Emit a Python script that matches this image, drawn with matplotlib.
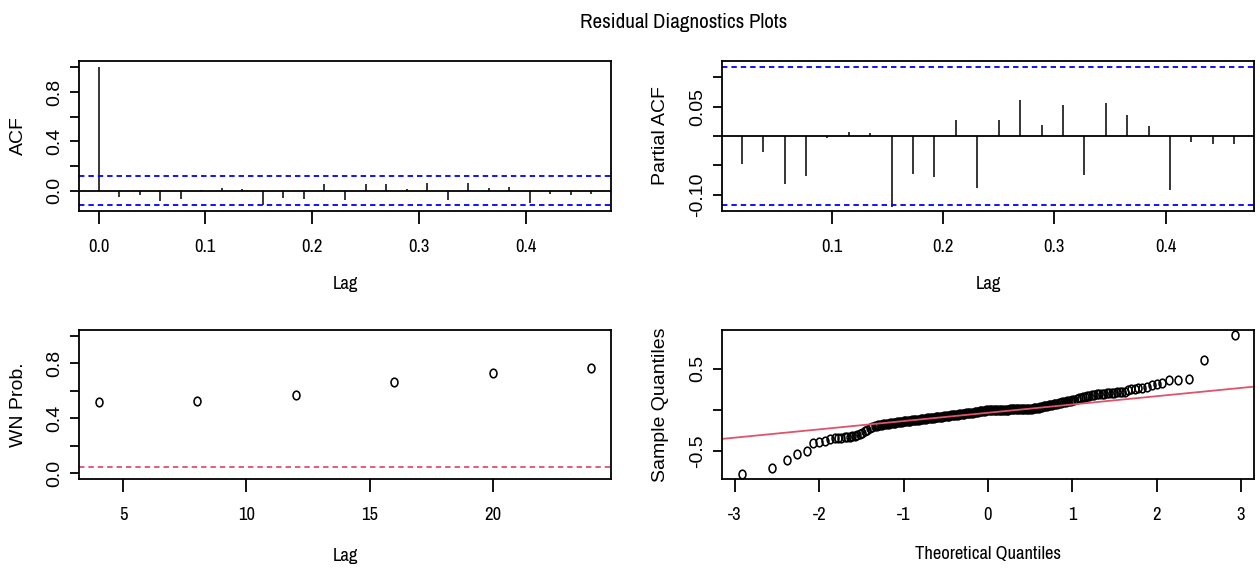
import os
import numpy as np
import matplotlib
matplotlib.use("Agg")
import matplotlib.pyplot as plt
from matplotlib import font_manager
from matplotlib.font_manager import FontProperties
from matplotlib.path import Path
from matplotlib.transforms import Affine2D

# ---------------- data ----------------
title = "Residual Diagnostics Plots"
season = 52  # weekly series: lag axis is in years

acf_lag_numbers = list(range(0, 25))
acf_values = [1.0, -0.049, -0.035, -0.081, -0.067, 0.005, 0.020, 0.013, -0.119,
              -0.057, -0.067, 0.057, -0.073, 0.051, 0.057, 0.013, 0.062, -0.078,
              0.062, 0.022, 0.027, -0.100, -0.024, -0.038, -0.024]
acf_ci = 0.1186

pacf_lag_numbers = list(range(1, 25))
pacf_values = [-0.048, -0.028, -0.081, -0.068, -0.003, 0.0075, 0.0046, -0.121,
               -0.064, -0.070, 0.028, -0.088, 0.028, 0.061, 0.018, 0.053, -0.067,
               0.056, 0.036, 0.017, -0.0925, -0.010, -0.013, -0.014]
pacf_ci = 0.1177

wn_lags = [4, 8, 12, 16, 20, 24]
wn_prob = [0.518, 0.525, 0.569, 0.662, 0.725, 0.762]
wn_threshold = 0.05

qq_low_theor = [-2.92, -2.56, -2.38, -2.26, -2.15, -2.07, -2.00, -1.93, -1.87, -1.82,
                -1.78, -1.74, -1.70, -1.67, -1.64, -1.61, -1.58, -1.55, -1.52, -1.49,
                -1.46, -1.43, -1.40, -1.37]
qq_low_sample = [-0.777, -0.705, -0.608, -0.536, -0.508, -0.406, -0.399, -0.376, -0.359, -0.348,
                 -0.343, -0.339, -0.336, -0.333, -0.330, -0.326, -0.320, -0.310, -0.297, -0.282,
                 -0.265, -0.247, -0.228, -0.212]

qq_mid_theor = [-1.34, -1.32, -1.30, -1.28, -1.26, -1.24, -1.22, -1.20,
                -1.18, -1.16, -1.14, -1.12, -1.10, -1.08, -1.06, -1.04, -1.02, -1.00,
                -0.98, -0.96, -0.94, -0.92, -0.90, -0.88, -0.86, -0.84, -0.82, -0.80,
                -0.78, -0.76, -0.74, -0.72, -0.70, -0.68, -0.66, -0.64, -0.62, -0.60,
                -0.58, -0.56, -0.54, -0.52, -0.50, -0.48, -0.46, -0.44, -0.42, -0.40,
                -0.38, -0.36, -0.34, -0.32, -0.30, -0.28, -0.26, -0.24, -0.22, -0.20,
                -0.18, -0.16, -0.14, -0.12, -0.10, -0.08, -0.06, -0.04, -0.02, 0.00,
                0.02, 0.04, 0.06, 0.08, 0.10, 0.12, 0.14, 0.16, 0.18, 0.20,
                0.22, 0.24, 0.26, 0.28, 0.30, 0.32, 0.34, 0.36, 0.38, 0.40,
                0.42, 0.44, 0.46, 0.48, 0.50,
                0.52, 0.54, 0.56, 0.58, 0.60, 0.62, 0.64, 0.66, 0.68, 0.70,
                0.72, 0.74, 0.76, 0.78, 0.80, 0.82, 0.84, 0.86, 0.88, 0.90,
                0.92, 0.94, 0.96, 0.98, 1.00]
qq_mid_sample = [-0.198, -0.194, -0.191, -0.187, -0.183, -0.180, -0.176, -0.172,
                 -0.169, -0.166, -0.163, -0.160, -0.157, -0.155, -0.152, -0.149, -0.146, -0.143,
                 -0.140, -0.138, -0.135, -0.133, -0.130, -0.128, -0.125, -0.123, -0.120, -0.118,
                 -0.115, -0.113, -0.110, -0.107, -0.105, -0.102, -0.100, -0.097, -0.094, -0.092,
                 -0.089, -0.087, -0.084, -0.081, -0.079, -0.076, -0.074, -0.071, -0.068, -0.066,
                 -0.063, -0.060, -0.057, -0.055, -0.052, -0.049, -0.046, -0.043, -0.041, -0.038,
                 -0.035, -0.032, -0.028, -0.025, -0.022, -0.019, -0.016, -0.012, -0.009, -0.006,
                 -0.004, -0.003, -0.002, -0.002, -0.001, -0.001, 0.000, 0.000, 0.000, 0.001,
                 0.001, 0.001, 0.002, 0.002, 0.002, 0.003, 0.003, 0.003, 0.004, 0.004,
                 0.004, 0.005, 0.005, 0.006, 0.006,
                 0.010, 0.014, 0.018, 0.022, 0.026, 0.031, 0.035, 0.039, 0.044, 0.048,
                 0.052, 0.057, 0.061, 0.065, 0.070, 0.074, 0.078, 0.083, 0.087, 0.091,
                 0.096, 0.100, 0.105, 0.110, 0.115]

qq_high_theor = [1.025, 1.05, 1.075, 1.10, 1.125, 1.15, 1.175, 1.20,
                 1.23, 1.26, 1.29, 1.32, 1.35, 1.38, 1.41, 1.44, 1.47, 1.50, 1.53, 1.56, 1.59, 1.62,
                 1.66, 1.70, 1.74, 1.78, 1.83, 1.89, 1.95, 2.00, 2.06, 2.15, 2.25, 2.38, 2.56, 2.925]
qq_high_sample = [0.122, 0.130, 0.137, 0.144, 0.151, 0.158, 0.164, 0.170,
                  0.180, 0.183, 0.186, 0.189, 0.192, 0.195, 0.198, 0.201, 0.204, 0.207, 0.210, 0.213, 0.216, 0.220,
                  0.240, 0.248, 0.255, 0.262, 0.266, 0.280, 0.300, 0.310, 0.327, 0.360, 0.360, 0.367, 0.600, 0.903]

qq_line_intercept = -0.038
qq_line_slope = 0.1007

# ---------------- fonts ----------------
available = {f.name for f in font_manager.fontManager.ttflist}
REG = "Liberation Sans" if "Liberation Sans" in available else "DejaVu Sans"


def find_narrow_font():
    family_rank = ["Liberation Sans Narrow", "Arial Narrow", "Roboto Condensed",
                   "Noto Sans", "Open Sans", "Roboto", "Lato", "Inter",
                   "Liberation Sans", "DejaVu Sans"]
    bad = ("bold", "italic", "oblique", "light", "medium", "semibold", "black",
           "thin", "heavy", "extrabold", "display", "mono", "ui", "cjk")
    best = None
    for f in font_manager.fontManager.ttflist:
        base = os.path.basename(f.fname).lower()
        name = f.name
        stretch = str(f.stretch).lower()
        tag = (name + " " + base + " " + stretch).lower()
        squashed = tag.replace("-", "").replace(" ", "")
        if str(f.style).lower() != "normal":
            continue
        if any(b in base.replace("condensed", "").replace("semicond", "") for b in bad):
            continue
        if f.weight not in (400, "normal", "regular", "book"):
            continue
        if "narrow" in tag:
            wrank = 0
        elif "semicondensed" in squashed:
            wrank = 2
        elif "extracondensed" in squashed or "ultracondensed" in squashed:
            wrank = 3
        elif "condensed" in tag:
            wrank = 1
        else:
            continue
        fam_rank = len(family_rank)
        for i, fam in enumerate(family_rank):
            if name.lower().startswith(fam.lower()):
                fam_rank = i
                break
        key = (wrank, fam_rank)
        if best is None or key < best[0]:
            best = (key, f.fname)
    return best[1] if best else None


narrow_file = find_narrow_font()


def hfont(size):
    if narrow_file:
        return FontProperties(fname=narrow_file, size=size)
    return FontProperties(family=REG, size=size)


def vfont(size):
    return FontProperties(family=REG, size=size)


# ---------------- figure ----------------
W, H = 1260, 571
fig = plt.figure(figsize=(W / 100, H / 100), dpi=100)
fig.patch.set_facecolor("white")
renderer = fig.canvas.get_renderer()


def fit_size(text, target_px, start=15.0):
    t = fig.text(0, 0, text, fontproperties=hfont(start))
    w = t.get_window_extent(renderer=renderer).width
    t.remove()
    return start * target_px / w


TITLE_SIZE = fit_size(title, 207.0)
HSIZE = fit_size("Theoretical Quantiles", 146.0)
VSIZE = 14


def box(left, top, right, bottom):
    return [left / W, 1 - bottom / H, (right - left) / W, (bottom - top) / H]


ax_acf = fig.add_axes(box(79, 61, 611, 211))
ax_pacf = fig.add_axes(box(722, 61, 1254, 211))
ax_wn = fig.add_axes(box(79, 330, 611, 479))
ax_qq = fig.add_axes(box(722, 330, 1254, 479))

ring_path = Path.unit_circle().transformed(Affine2D().scale(0.8, 1.0))


def style(ax):
    for s in ax.spines.values():
        s.set_linewidth(1.3)
        s.set_color("black")
    ax.tick_params(axis="x", direction="out", length=9.4, width=1.3, pad=10.5)
    ax.tick_params(axis="y", direction="out", length=6.5, width=1.3, pad=5.0)


def set_x(ax, ticks, labels):
    ax.set_xticks(ticks)
    ax.set_xticklabels(labels, fontproperties=hfont(HSIZE))


def set_y(ax, ticks, labels):
    ax.set_yticks(ticks)
    ax.set_yticklabels(labels, rotation=90, va="center", ha="right",
                       fontproperties=vfont(VSIZE))


def labels(ax, xlabel, ylabel, xy, yx):
    ax.set_xlabel(xlabel, fontproperties=hfont(HSIZE))
    ax.xaxis.label.set_va("center")
    ax.xaxis.set_label_coords(0.5, xy)
    ax.set_ylabel(ylabel, fontproperties=vfont(VSIZE))
    ax.yaxis.label.set_va("center")
    ax.yaxis.set_label_coords(yx, 0.5)


# ACF
acf_x = np.array(acf_lag_numbers) / season
ax_acf.vlines(acf_x, 0, acf_values, color="black", lw=1.1)
ax_acf.axhline(0, color="black", lw=1.3)
for c in (acf_ci, -acf_ci):
    ax_acf.axhline(c, color="blue", lw=1.3, ls=(0, (3, 2.2)))
ax_acf.set_xlim(-0.01846, 0.48)
ax_acf.set_ylim(-0.1645, 1.051)
style(ax_acf)
set_x(ax_acf, [0.0, 0.1, 0.2, 0.3, 0.4], ["0.0", "0.1", "0.2", "0.3", "0.4"])
set_y(ax_acf, [0.0, 0.2, 0.4, 0.6, 0.8, 1.0], ["0.0", "", "0.4", "", "0.8", ""])
labels(ax_acf, "Lag", "ACF", -0.49, -0.1147)

# PACF
pacf_x = np.array(pacf_lag_numbers) / season
ax_pacf.vlines(pacf_x, 0, pacf_values, color="black", lw=1.1)
ax_pacf.axhline(0, color="black", lw=1.3)
for c in (pacf_ci, -pacf_ci):
    ax_pacf.axhline(c, color="blue", lw=1.3, ls=(0, (3, 2.2)))
ax_pacf.set_xlim(0.00154, 0.4792)
ax_pacf.set_ylim(-0.1275, 0.1275)
style(ax_pacf)
set_x(ax_pacf, [0.1, 0.2, 0.3, 0.4], ["0.1", "0.2", "0.3", "0.4"])
set_y(ax_pacf, [-0.10, -0.05, 0.0, 0.05, 0.10], ["-0.10", "", "", "0.05", ""])
labels(ax_pacf, "Lag", "Partial ACF", -0.49, -0.1165)

# WN probabilities
ax_wn.plot(wn_lags, wn_prob, ls="none", marker=ring_path, ms=6.2,
           mfc="none", mec="black", mew=1.15)
ax_wn.axhline(wn_threshold, color="#DF536B", lw=1.3, ls=(0, (3, 2.2)))
ax_wn.set_xlim(3.2, 24.8)
ax_wn.set_ylim(-0.04, 1.04)
style(ax_wn)
set_x(ax_wn, [5, 10, 15, 20], ["5", "10", "15", "20"])
set_y(ax_wn, [0.0, 0.2, 0.4, 0.6, 0.8, 1.0], ["0.0", "", "0.4", "", "0.8", ""])
labels(ax_wn, "Lag", "WN Prob.", -0.515, -0.1128)

# Normal Q-Q
qq_theor = qq_low_theor + qq_mid_theor + qq_high_theor
qq_sample = qq_low_sample + qq_mid_sample + qq_high_sample
ax_qq.plot(qq_theor, qq_sample, ls="none", marker=ring_path, ms=6.2,
           mfc="none", mec="black", mew=1.15)
ax_qq.axline((0, qq_line_intercept), slope=qq_line_slope, color="#DF536B", lw=1.3)
ax_qq.set_xlim(-3.155, 3.155)
ax_qq.set_ylim(-0.843, 0.968)
style(ax_qq)
set_x(ax_qq, [-3, -2, -1, 0, 1, 2, 3], ["-3", "-2", "-1", "0", "1", "2", "3"])
set_y(ax_qq, [-0.5, 0.0, 0.5], ["-0.5", "", "0.5"])
labels(ax_qq, "Theoretical Quantiles", "Sample Quantiles", -0.505, -0.1165)

fig.text(683.7 / W, 1 - 27.5 / H, title, ha="center", va="baseline",
         fontproperties=hfont(TITLE_SIZE))

fig.savefig("out.png", dpi=100, facecolor="white")
